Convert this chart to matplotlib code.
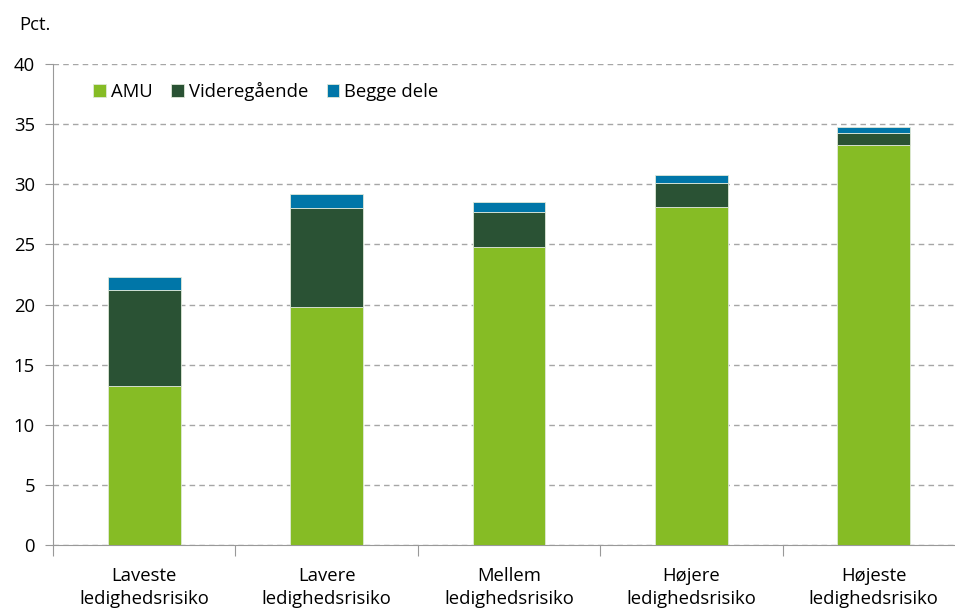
import numpy as np
import matplotlib.pyplot as plt

plt.rcParams['font.family'] = ['Open Sans', 'DejaVu Sans']

categories = ['Laveste\nledighedsrisiko', 'Lavere\nledighedsrisiko', 'Mellem\nledighedsrisiko',
              'Højere\nledighedsrisiko', 'Højeste\nledighedsrisiko']
amu = [13.2, 19.8, 24.8, 28.1, 33.3]
videregaaende = [8.0, 8.2, 2.9, 2.0, 1.0]
begge = [1.1, 1.2, 0.8, 0.7, 0.5]

series = [('AMU', amu, '#86BC25'),
          ('Videregående', videregaaende, '#2A5234'),
          ('Begge dele', begge, '#0076A8')]

fs = 13.3

fig = plt.figure(figsize=(9.55, 6.08), dpi=100)
ax = fig.add_axes([53 / 955, 1 - 545 / 608, 912 / 955, 481 / 608])

x = np.arange(len(categories))
bottom = np.zeros(len(categories))
for name, vals, col in series:
    ax.bar(x, vals, 0.4, bottom=bottom, color=col, label=name,
           edgecolor='#dfe8d8', linewidth=0.6, zorder=3)
    bottom += np.array(vals)

ax.set_xlim(-0.5, len(categories) - 0.5)
ax.set_ylim(0, 40)
ax.set_yticks(range(0, 41, 5))
ax.yaxis.grid(True, linestyle=(0, (4, 3)), color='#a6a6a6', linewidth=1.0, zorder=0)
ax.set_axisbelow(True)

# x ticks at the category boundaries, labels centred
ax.set_xticks(np.arange(-0.5, len(categories), 1.0))
ax.set_xticklabels([])
ax.set_xticks(x, minor=True)
ax.set_xticklabels(categories, minor=True, fontsize=fs, linespacing=1.4)
ax.tick_params(axis='x', which='major', length=8, color='#999999')
ax.tick_params(axis='x', which='minor', length=0, pad=15.5)
ax.tick_params(axis='y', length=6, color='#999999', labelsize=fs, pad=7)

for s in ['top', 'right']:
    ax.spines[s].set_visible(False)
for s in ['left', 'bottom']:
    ax.spines[s].set_color('#999999')

fig.text(19 / 955, 1 - 25 / 608, 'Pct.', fontsize=fs, va='center', ha='left')

ax.legend(loc='upper left', bbox_to_anchor=(0.026, 0.997), ncol=3, frameon=False,
          fontsize=fs, handlelength=0.7, handleheight=0.7, handletextpad=0.25,
          columnspacing=1.0)

fig.savefig('out.png', dpi=100)
